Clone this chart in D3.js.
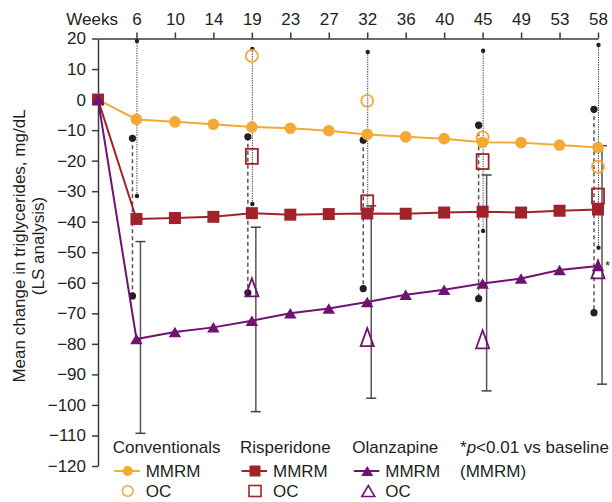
<!DOCTYPE html>
<html><head><meta charset="utf-8">
<script src="https://cdn.jsdelivr.net/npm/d3@7"></script>
<style>
body{margin:0;background:#fff}
text{font-family:"Liberation Sans",Arial,Helvetica,sans-serif;fill:#231f20}
</style>
</head><body>
<svg id="c" width="612" height="502"></svg>
<script>
// ---------- data ----------
const weeks = [0,6,10,14,19,23,27,32,36,40,45,49,53,58];
const yTicks = [20,10,0,-10,-20,-30,-40,-50,-60,-70,-80,-90,-100,-110,-120];

const convMMRM = [0,-6.5,-7.3,-8.1,-9.0,-9.4,-10.2,-11.4,-12.2,-12.8,-14.0,-14.1,-14.9,-15.7];
const rispMMRM = [0,-39.1,-38.8,-38.4,-37.2,-37.7,-37.5,-37.3,-37.4,-37.0,-36.7,-37.0,-36.4,-36.0];
const olzMMRM  = [0,-78.4,-76.1,-74.6,-72.4,-70.0,-68.4,-66.3,-63.9,-62.3,-60.2,-58.6,-55.8,-54.5];

const ocWeeks = [19,32,45,58];
const convOC = [14.3,-0.4,-12.4,-22.0];
const rispOC = [-18.6,-33.8,-20.3,-31.6];
const olzOC  = [-61.5,-77.8,-78.5,-55.6];

const sdWeeks = [6,19,32,45,58];
const convHigh = [19.2,16.6,15.6,16.0,17.9];
const convLow  = [-31.6,-34.2,-38.0,-43.0,-48.5];
const rispHigh = [-12.7,-12.2,-13.3,-8.4,-3.2];
const rispLow  = [-64.3,-63.3,-61.9,-65.2,-69.8];
const olzHigh  = [-46.5,-41.8,-34.8,-24.7,-15.1];
const olzLow   = [-109.3,-102.2,-97.8,-95.4,-93.2];

const groups = ["Conventionals","Risperidone","Olanzapine"];
const colors = {Conventionals:"#F3A933", Risperidone:"#A0232B", Olanzapine:"#701271"};

// ---------- scales ----------
const svg = d3.select("#c");
const x = d3.scalePoint().domain(weeks).range([98,598]);
const y = d3.scaleLinear().domain([-120,20]).range([466,38.5]);
const FONT = '"Liberation Sans",Arial,Helvetica,sans-serif';

// ---------- axes ----------
const gy = svg.append("g").attr("transform","translate(98,0)")
  .call(d3.axisLeft(y).tickValues(yTicks).tickSize(6).tickPadding(6).tickSizeOuter(0));
const gx = svg.append("g").attr("transform",`translate(0,${y(20)})`)
  .call(d3.axisTop(x).tickValues(weeks.slice(1)).tickSize(6).tickPadding(8).tickSizeOuter(0));
[gx,gy].forEach(g=>{
  g.attr("font-size",17).attr("font-family",FONT).attr("color","#231f20");
  g.selectAll("line,path").attr("stroke","#3a3a3a").attr("stroke-width",1.5);
});
svg.append("text").attr("x",118).attr("y",y(20)-14).attr("text-anchor","end")
  .attr("font-size",17).text("Weeks");

// y title
const yt = svg.append("text").attr("transform",`translate(25,246) rotate(-90)`)
  .attr("text-anchor","middle").attr("font-size",17);
yt.append("tspan").attr("x",0).attr("y",0).text("Mean change in triglycerides, mg/dL");
yt.append("tspan").attr("x",0).attr("y",19).text("(LS analysis)");

// ---------- error bars ----------
const eb = svg.append("g");
// conventionals: fine dotted with small dots
sdWeeks.forEach((w,i)=>{
  const cx = x(w)+0.5;
  eb.append("line").attr("x1",cx).attr("x2",cx).attr("y1",y(convHigh[i])).attr("y2",y(convLow[i]))
    .attr("stroke","#333").attr("stroke-width",1).attr("stroke-dasharray","1.2,1.2");
  [convHigh[i],convLow[i]].forEach(v=>eb.append("circle").attr("cx",cx).attr("cy",y(v)).attr("r",2.2).attr("fill","#231f20"));
});
// risperidone: dashed with large dots
sdWeeks.forEach((w,i)=>{
  const cx = x(w)-4;
  eb.append("line").attr("x1",cx).attr("x2",cx).attr("y1",y(rispHigh[i])).attr("y2",y(rispLow[i]))
    .attr("stroke","#555").attr("stroke-width",1.5).attr("stroke-dasharray","4,3");
  [rispHigh[i],rispLow[i]].forEach(v=>eb.append("circle").attr("cx",cx).attr("cy",y(v)).attr("r",3.6).attr("fill","#231f20"));
});
// olanzapine: solid with caps
sdWeeks.forEach((w,i)=>{
  const cx = x(w)+4;
  eb.append("line").attr("x1",cx).attr("x2",cx).attr("y1",y(olzHigh[i])).attr("y2",y(olzLow[i]))
    .attr("stroke","#555").attr("stroke-width",1.5);
  [olzHigh[i],olzLow[i]].forEach(v=>eb.append("line").attr("x1",cx-5).attr("x2",cx+5)
    .attr("y1",y(v)).attr("y2",y(v)).attr("stroke","#444").attr("stroke-width",1.5));
});

// ---------- MMRM series ----------
const line = d3.line().x(d=>x(d[0])).y(d=>y(d[1]));
function triPath(cx,cy,w,h){return `M${cx},${cy-h/2}L${cx+w/2},${cy+h/2}L${cx-w/2},${cy+h/2}Z`;}

function drawSeries(vals, name, shape){
  const c = colors[name];
  const pts = weeks.map((w,i)=>[w,vals[i]]);
  const g = svg.append("g");
  g.append("path").attr("d",line(pts)).attr("fill","none").attr("stroke",c).attr("stroke-width",2);
  pts.forEach(p=>{
    const cx=x(p[0]), cy=y(p[1]);
    if(shape==="circle") g.append("circle").attr("cx",cx).attr("cy",cy).attr("r",5.8).attr("fill",c);
    else if(shape==="square") g.append("rect").attr("x",cx-6).attr("y",cy-6).attr("width",12).attr("height",12).attr("fill",c);
    else g.append("path").attr("d",triPath(cx,cy,12.5,10.5)).attr("fill",c);
  });
}
drawSeries(convMMRM,"Conventionals","circle");
drawSeries(rispMMRM,"Risperidone","square");
drawSeries(olzMMRM,"Olanzapine","triangle");

// ---------- OC markers ----------
const oc = svg.append("g").attr("fill","none").attr("stroke-width",1.8);
ocWeeks.forEach((w,i)=>{
  const cx=x(w);
  oc.append("circle").attr("cx",cx).attr("cy",y(convOC[i])).attr("r",6).attr("stroke",colors.Conventionals);
  oc.append("rect").attr("x",cx-6).attr("y",y(rispOC[i])-7.5).attr("width",12).attr("height",15).attr("stroke",colors.Risperidone);
  oc.append("path").attr("d",triPath(cx,y(olzOC[i]),13,18)).attr("stroke",colors.Olanzapine);
});

// significance star
svg.append("text").attr("x",x(58)+7).attr("y",y(olzMMRM[olzMMRM.length-1])+4)
  .attr("font-size",13).text("*");

// ---------- legend ----------
const lg = svg.append("g");
const legX = [112.7,240,352.3];
const shapes = ["circle","square","triangle"];
groups.forEach((name,i)=>{
  const c = colors[name], lx = legX[i];
  lg.append("text").attr("x",lx).attr("y",453).attr("font-size",17).text(name);
  // MMRM row
  lg.append("line").attr("x1",lx+1.5).attr("x2",lx+27).attr("y1",471).attr("y2",471).attr("stroke",c).attr("stroke-width",2);
  const mx = lx+15, my = 471;
  if(shapes[i]==="circle") lg.append("circle").attr("cx",mx).attr("cy",my).attr("r",5).attr("fill",c);
  else if(shapes[i]==="square") lg.append("rect").attr("x",mx-5.5).attr("y",my-5.5).attr("width",11).attr("height",11).attr("fill",c);
  else lg.append("path").attr("d",triPath(mx,my,12,10)).attr("fill",c);
  lg.append("text").attr("x",lx+33).attr("y",476.5).attr("font-size",17).text("MMRM");
  // OC row
  const oy = 491;
  if(shapes[i]==="circle") lg.append("circle").attr("cx",mx).attr("cy",oy).attr("r",5.3).attr("fill","none").attr("stroke",c).attr("stroke-width",1.6);
  else if(shapes[i]==="square") lg.append("rect").attr("x",mx-6).attr("y",oy-5.5).attr("width",12).attr("height",11).attr("fill","none").attr("stroke",c).attr("stroke-width",1.6);
  else lg.append("path").attr("d",triPath(mx+1,oy,13,11)).attr("fill","none").attr("stroke",c).attr("stroke-width",1.6);
  lg.append("text").attr("x",lx+33).attr("y",497).attr("font-size",17).text("OC");
});
const note = lg.append("text").attr("x",460).attr("y",453).attr("font-size",17);
note.append("tspan").text("*");
note.append("tspan").attr("font-style","italic").text("p");
note.append("tspan").text("<0.01 vs baseline");
lg.append("text").attr("x",460).attr("y",476.5).attr("font-size",17).text("(MMRM)");
</script>
</body></html>
